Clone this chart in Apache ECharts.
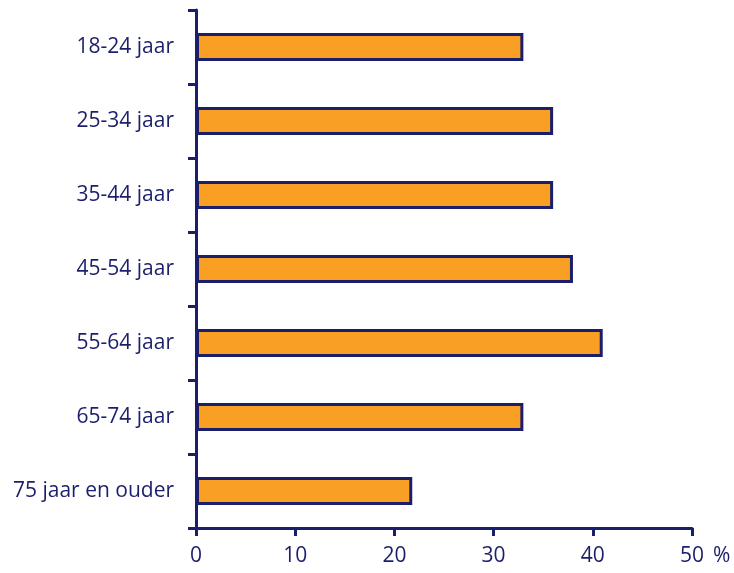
<!DOCTYPE html>
<html><head><meta charset="utf-8">
<script src="https://cdn.jsdelivr.net/npm/echarts@6/dist/echarts.min.js"></script>
<style>html,body{margin:0;padding:0;background:#fff}#c{width:734px;height:573px}</style>
</head><body><div id="c"></div>
<script>
const categories = ['18-24 jaar','25-34 jaar','35-44 jaar','45-54 jaar','55-64 jaar','65-74 jaar','75 jaar en ouder'];
const values = [33, 36, 36, 38, 41, 33, 21.8];
const xTicks = [0, 10, 20, 30, 40, 50];

const navy = '#1b1f6b';
const font = 'Open Sans';
const chart = echarts.init(document.getElementById('c'));
chart.setOption({
  animation: false,
  backgroundColor: '#fff',
  grid: {left: 196, right: 42, top: 10, bottom: 45, containLabel: false},
  xAxis: {
    type: 'value', min: xTicks[0], max: xTicks[xTicks.length-1], interval: 10,
    splitLine: {show: false},
    axisLine: {show: true, lineStyle: {color: navy, width: 3}},
    axisTick: {show: true, length: 8, lineStyle: {color: navy, width: 3}},
    axisLabel: {color: navy, fontSize: 21, fontFamily: font, margin: 18},
    name: '%', nameLocation: 'end', nameGap: 21,
    nameTextStyle: {color: navy, fontSize: 21, fontFamily: font, verticalAlign: 'top', padding: [18, 0, 0, 0]}
  },
  yAxis: {
    type: 'category', data: categories, inverse: true,
    axisLine: {show: true, lineStyle: {color: navy, width: 3}},
    axisTick: {show: true, length: 8, lineStyle: {color: navy, width: 3}},
    axisLabel: {color: navy, fontSize: 21, fontFamily: font, margin: 22}
  },
  series: [{
    type: 'bar', data: values, barWidth: 28,
    itemStyle: {color: '#F9A024', borderColor: navy, borderWidth: 3}
  }]
});
</script></body></html>
